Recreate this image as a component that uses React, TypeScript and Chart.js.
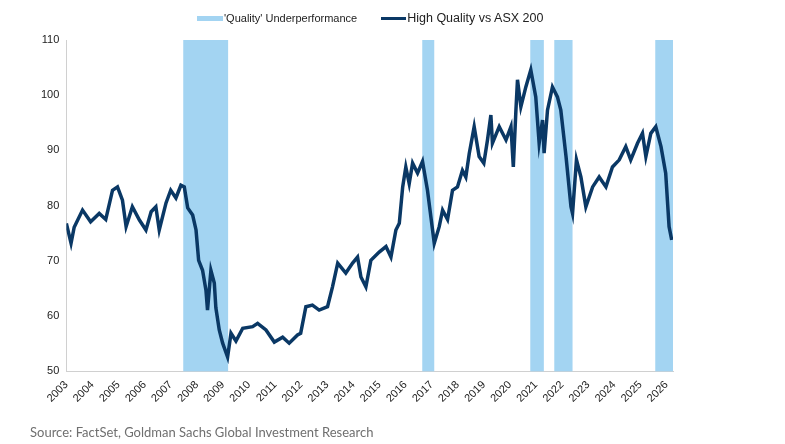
import React, { useEffect, useRef } from "react";
import { Chart, registerables } from "chart.js";

Chart.register(...registerables);

// High Quality vs ASX 200 (decimal year, index level)
const years = [
  2003.0, 2003.18, 2003.3, 2003.62, 2003.93, 2004.26, 2004.51, 2004.77, 2004.96, 2005.15,
  2005.29, 2005.53, 2005.8, 2006.05, 2006.25, 2006.43, 2006.56, 2006.82, 2007.0, 2007.2,
  2007.39, 2007.52, 2007.65, 2007.84, 2007.97, 2008.07, 2008.22, 2008.35, 2008.41, 2008.54,
  2008.67, 2008.73, 2008.86, 2008.99, 2009.18, 2009.31, 2009.5, 2009.76, 2010.14, 2010.33,
  2010.65, 2010.97, 2011.29, 2011.54, 2011.86, 2011.98, 2012.18, 2012.43, 2012.69, 2013.01,
  2013.2, 2013.4, 2013.71, 2013.97, 2014.16, 2014.29, 2014.48, 2014.67, 2014.99, 2015.25,
  2015.44, 2015.63, 2015.76, 2015.89, 2016.01, 2016.14, 2016.27, 2016.46, 2016.65, 2016.84,
  2016.97, 2017.1, 2017.29, 2017.42, 2017.61, 2017.8, 2017.99, 2018.18, 2018.31, 2018.44,
  2018.63, 2018.82, 2019.0, 2019.14, 2019.27, 2019.33, 2019.59, 2019.85, 2020.04, 2020.13,
  2020.23, 2020.29, 2020.42, 2020.61, 2020.8, 2020.99, 2021.12, 2021.25, 2021.31, 2021.44,
  2021.63, 2021.82, 2021.95, 2022.15, 2022.34, 2022.4, 2022.55, 2022.72, 2022.91, 2023.17,
  2023.42, 2023.68, 2023.93, 2024.19, 2024.44, 2024.63, 2024.89, 2025.08, 2025.21, 2025.4,
  2025.59, 2025.79, 2025.97, 2026.1, 2026.2,
];
const values = [
  76.8, 73.2, 76.1, 79.2, 77.1, 78.6, 77.5, 82.8, 83.4, 81.0,
  76.2, 79.8, 77.4, 75.6, 78.9, 79.8, 75.6, 80.5, 82.8, 81.4,
  83.7, 83.4, 79.6, 78.3, 75.6, 70.1, 68.3, 64.7, 61.1, 68.3,
  66.0, 61.5, 57.5, 55.1, 52.6, 56.9, 55.5, 57.8, 58.1, 58.7,
  57.5, 55.3, 56.2, 55.1, 56.6, 56.9, 61.7, 62.0, 61.1, 61.7,
  65.3, 69.6, 67.8, 69.6, 70.7, 67.1, 65.3, 70.1, 71.6, 72.6,
  70.7, 75.6, 76.8, 83.4, 87.0, 84.0, 87.7, 85.9, 88.0, 82.8,
  78.0, 73.2, 76.2, 79.2, 77.5, 82.8, 83.4, 86.4, 85.2, 89.4,
  94.3, 88.9, 87.7, 91.9, 96.4, 91.3, 94.3, 91.9, 94.3, 87.0,
  97.3, 102.8, 97.9, 101.5, 104.6, 99.7, 91.3, 95.5, 89.5, 97.3,
  101.5, 99.7, 97.3, 88.9, 79.8, 78.6, 88.3, 85.2, 79.8, 83.4,
  85.2, 83.4, 87.0, 88.3, 90.7, 88.3, 91.3, 93.1, 88.9, 93.1,
  94.3, 90.7, 85.9, 76.2, 73.8,
];

const tickYears = Array.from({ length: 24 }, (_, i) => 2003 + i);

// 'Quality' underperformance periods
const bandStarts = [2007.48, 2016.64, 2020.78, 2021.7, 2025.57];
const bandEnds = [2009.2, 2017.1, 2021.3, 2022.4, 2026.25];

const bandColor = "#a3d4f2";
const lineColor = "#0a3865";

const bandPlugin = {
  id: "bands",
  beforeDatasetsDraw(chart: any) {
    const { ctx, chartArea, scales } = chart;
    ctx.save();
    ctx.fillStyle = bandColor;
    bandStarts.forEach((s, i) => {
      const x0 = scales.x.getPixelForValue(s);
      const x1 = scales.x.getPixelForValue(bandEnds[i]);
      ctx.fillRect(x0, chartArea.top, x1 - x0, chartArea.bottom - chartArea.top);
    });
    ctx.restore();
  },
};

const App = () => {
  const chartRef = useRef<HTMLCanvasElement>(null);

  useEffect(() => {
    if (!chartRef.current) return;
    const chart = new Chart(chartRef.current, {
      type: "line",
      data: {
        datasets: [
          {
            label: "High Quality vs ASX 200",
            data: years.map((y, i) => ({ x: y, y: values[i] })),
            borderColor: lineColor,
            borderWidth: 3.5,
            pointRadius: 0,
            tension: 0,
          },
        ],
      },
      options: {
        animation: false,
        responsive: false,
        layout: { padding: { left: 38, right: 112, top: 40, bottom: 36 } },
        plugins: { legend: { display: false }, tooltip: { enabled: false } },
        scales: {
          x: {
            type: "linear",
            min: 2003,
            max: 2026.25,
            afterBuildTicks: (axis: any) => {
              axis.ticks = tickYears.map((v) => ({ value: v }));
            },
            grid: { display: false, drawTicks: true, tickLength: 4, color: "#d0d0d0" },
            border: { color: "#d0d0d0" },
            ticks: {
              autoSkip: false,
              maxRotation: 45,
              minRotation: 45,
              color: "#222",
              font: { family: "Arial, Liberation Sans", size: 11 },
              callback: (v: any) => String(v),
            },
          },
          y: {
            min: 50,
            max: 110,
            grid: { display: false, drawTicks: true, tickLength: 4, color: "#d0d0d0" },
            border: { color: "#d0d0d0" },
            ticks: {
              stepSize: 10,
              color: "#222",
              font: { family: "Arial, Liberation Sans", size: 11 },
            },
          },
        },
      },
      plugins: [bandPlugin],
    });
    return () => chart.destroy();
  }, []);

  return (
    <div style={{ position: "absolute", left: 0, top: 0, width: 785, height: 444, background: "#fff" }}>
      <canvas ref={chartRef} width={785} height={444} style={{ position: "absolute", left: 0, top: 0 }} />
      <div
        style={{
          position: "absolute", top: 10, left: 197, height: 16, display: "flex", alignItems: "center",
          fontFamily: "Arial, Liberation Sans", color: "#222",
        }}
      >
        <span style={{ display: "inline-block", width: 26, height: 5, background: bandColor, marginRight: 1 }} />
        <span style={{ fontSize: 11, marginRight: 24 }}>'Quality' Underperformance</span>
        <span style={{ display: "inline-block", width: 25, height: 3, background: lineColor, marginRight: 1 }} />
        <span style={{ fontSize: 12.5 }}>High Quality vs ASX 200</span>
      </div>
      <div
        style={{
          position: "absolute", top: 424, left: 30, fontFamily: "Lato", fontSize: 13, color: "#6f6f6f",
        }}
      >
        Source: FactSet, Goldman Sachs Global Investment Research
      </div>
    </div>
  );
};

export default App;
